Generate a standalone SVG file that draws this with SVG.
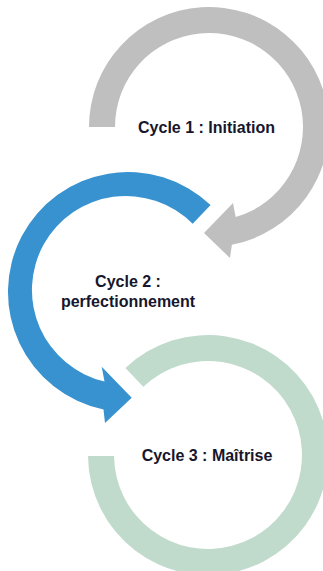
<svg xmlns="http://www.w3.org/2000/svg" width="323" height="571" viewBox="0 0 323 571">
<style>
.lbl{font-family:"Liberation Sans",Arial,sans-serif;font-weight:bold;font-size:16px;fill:#16162c;text-anchor:middle}
.c1{fill:#bfbfbf}
.c2{fill:#3792cf}
.c3{fill:#c0dacc}
</style>
<rect width="323" height="571" fill="#ffffff"/>
<g id="cycle1">
<path class="c1" d="M89,127 A120,120 0 1 1 231.9,244.8 L230,258 L204,233 L233,203 L235.7,217.1 A94,94 0 1 0 115,127 Z"/>
<text class="lbl" x="206.5" y="133">Cycle 1 : Initiation</text>
</g>
<g id="cycle2">
<path class="c2" d="M210.6,205 A120,120 0 1 0 103.5,409.5 L105,423 L131.7,397.7 L101.7,366.7 L104.5,381.5 A94,94 0 1 1 192.7,223.8 Z"/>
<text class="lbl" x="128" y="287">Cycle 2 :</text>
<text class="lbl" x="128" y="307">perfectionnement</text>
</g>
<g id="cycle3">
<path class="c3" d="M125.4,368 A120,120 0 1 1 88,456 L114,456 A94,94 0 1 0 143.3,386.8 Z"/>
<text class="lbl" x="207" y="461">Cycle 3 : Maîtrise</text>
</g>
</svg>
